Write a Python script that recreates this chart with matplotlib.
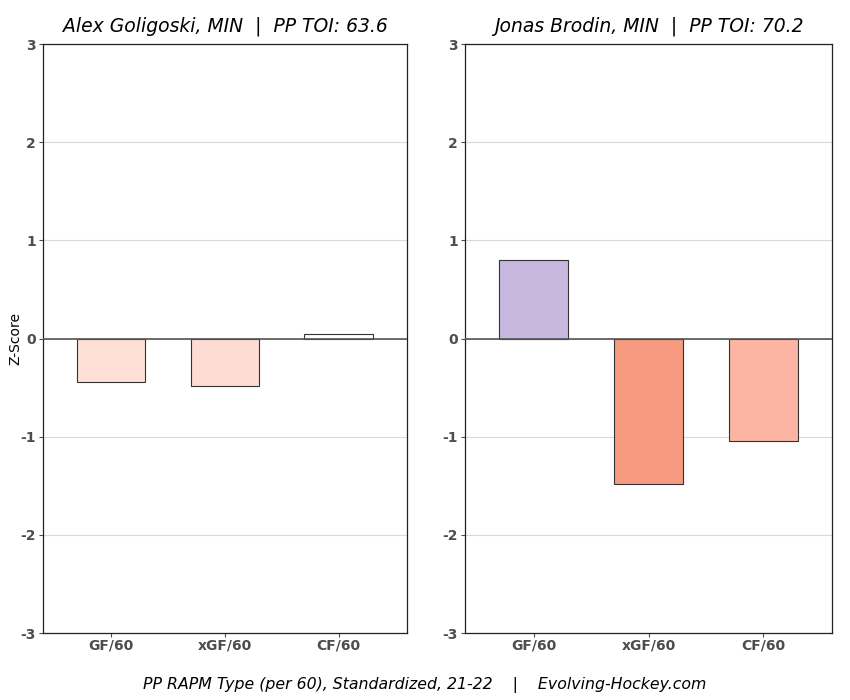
import matplotlib
matplotlib.use("Agg")
from matplotlib import pyplot as plt

plt.rcParams['axes.unicode_minus'] = False

categories = ['GF/60', 'xGF/60', 'CF/60']
players = ['Alex Goligoski, MIN', 'Jonas Brodin, MIN']
pp_toi = [63.6, 70.2]
values = [
    [-0.44, -0.48, 0.05],
    [0.80, -1.48, -1.04],
]
colors = [
    ['#fee0d6', '#fedcd3', '#ffffff'],
    ['#c8b8e0', '#f69a80', '#fdb5a3'],
]

fig = plt.figure(figsize=(8.5, 7), dpi=100)
axes = [fig.add_axes([0.0506, 0.0957, 0.428, 0.8414]),
        fig.add_axes([0.547, 0.0957, 0.432, 0.8414])]

for i, ax in enumerate(axes):
    x = range(len(categories))
    ax.bar(x, values[i], width=0.6, color=colors[i], edgecolor='#333333', linewidth=0.8, zorder=3)
    ax.axhline(0, color='#555555', linewidth=1.2, zorder=4)
    ax.set_ylim(-3, 3)
    ax.set_xlim(-0.6, 2.6)
    ax.set_yticks(range(-3, 4))
    ax.set_xticks(list(x))
    ax.set_xticklabels(categories)
    ax.grid(axis='y', color='#d9d9d9', linewidth=0.8, zorder=0)
    ax.tick_params(axis='both', colors='#4d4d4d', labelsize=10, length=3, pad=2)
    ax.tick_params(axis='x', pad=1)
    for lab in ax.get_xticklabels() + ax.get_yticklabels():
        lab.set_fontweight('bold')
        lab.set_color('#4d4d4d')
    for sp in ax.spines.values():
        sp.set_color('#222222')
        sp.set_linewidth(0.9)
    ax.set_title(f'{players[i]}  |  PP TOI: {pp_toi[i]}', fontsize=13.5, style='italic', pad=9)

axes[0].set_ylabel('Z-Score', fontsize=10)
axes[0].yaxis.set_label_coords(-0.058, 0.5)
fig.text(0.5, 0.016, 'PP RAPM Type (per 60), Standardized, 21-22    |    Evolving-Hockey.com',
         ha='center', fontsize=11.3, style='italic')

plt.savefig('out.png', dpi=100)
plt.close()
